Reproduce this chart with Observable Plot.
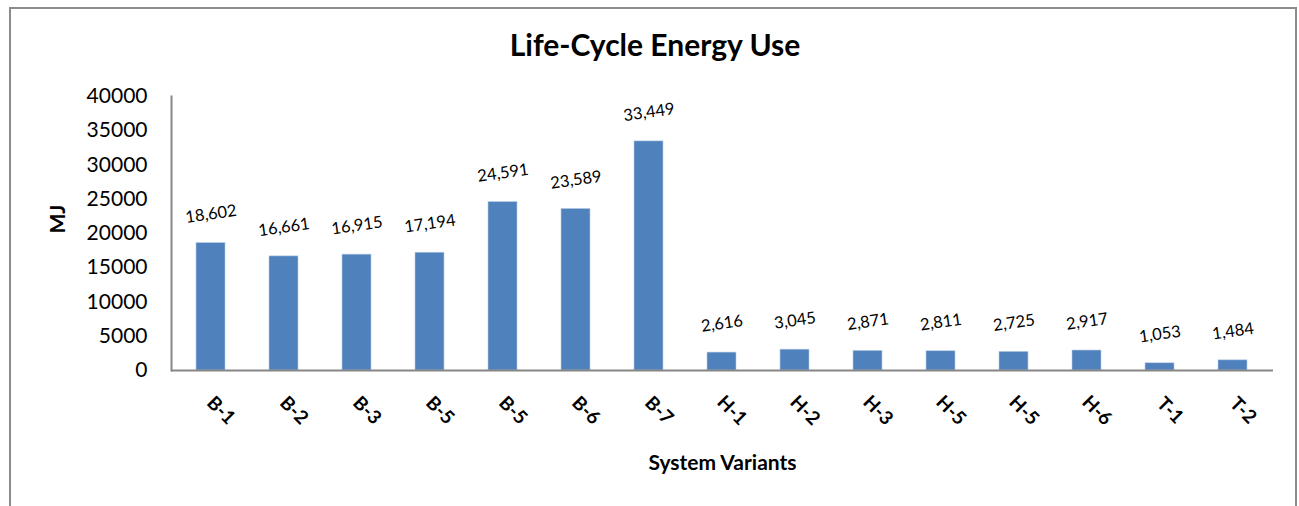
<!DOCTYPE html>
<html>
<head>
<meta charset="utf-8">
<script src="https://cdn.jsdelivr.net/npm/d3@7"></script>
<script src="https://cdn.jsdelivr.net/npm/@observablehq/plot@0.6"></script>
<style>
  html, body { margin: 0; padding: 0; background: #fff; }
  #wrap { position: relative; width: 1299px; height: 506px; overflow: hidden; font-family: Lato, "Open Sans", sans-serif; }
  #border { position: absolute; left: 9px; top: 7px; width: 1288px; height: 520px; border: 2px solid #8c8c8c; box-sizing: border-box; }
  #title { position: absolute; left: 0; top: 26px; width: 1310px; text-align: center; font-weight: bold; font-size: 30px; color: #000; }
  #chart { position: absolute; left: 0; top: 80px; }
</style>
</head>
<body>
<div id="wrap">
  <div id="border"></div>
  <div id="title">Life-Cycle Energy Use</div>
  <div id="chart"></div>
</div>
<script>
const categories = ["B-1","B-2","B-3","B-5","B-5","B-6","B-7","H-1","H-2","H-3","H-5","H-5","H-6","T-1","T-2"];
const values = [18602,16661,16915,17194,24591,23589,33449,2616,3045,2871,2811,2725,2917,1053,1484];
const yTicks = [0,5000,10000,15000,20000,25000,30000,35000,40000];

const data = categories.map((c, i) => ({i, c, v: values[i]}));
const fmt = d3.format(",");

const chart = Plot.plot({
  width: 1299,
  height: 426,
  marginLeft: 171,
  marginRight: 26,
  marginTop: 16,
  marginBottom: 136,
  style: {fontFamily: "Lato, 'Open Sans', sans-serif", background: "transparent"},
  x: {domain: d3.range(categories.length), paddingInner: 0.6, paddingOuter: 0.3, align: 0.5},
  y: {domain: [0, 40000]},
  marks: [
    Plot.barY(data, {x: "i", y: "v", fill: "#4f81bd", stroke: "#b9cde5", strokeWidth: 0.6}),
    Plot.axisY({ticks: yTicks, tickSize: 0, tickPadding: 24, fontSize: 21, label: null, tickFormat: d => String(d), fill: "#000"}),
    Plot.axisX({tickSize: 0, tickRotate: 45, tickFormat: i => categories[i], fontSize: 19, fontWeight: "bold", label: null, textAnchor: "middle", tickPadding: 0, dy: 40, dx: 10, fill: "#000"}),
    Plot.frame({anchor: "left", stroke: "#868686", strokeWidth: 2}),
    Plot.ruleY([0], {stroke: "#868686", strokeWidth: 2}),
    Plot.text(data, {x: "i", y: "v", text: d => fmt(d.v), dy: -29, rotate: -8, fontSize: 16.5, fill: "#000"}),
    Plot.text(["System Variants"], {frameAnchor: "bottom", dy: 99, fontSize: 21, fontWeight: "bold", fill: "#000"}),
    Plot.text(["MJ"], {frameAnchor: "left", dx: -113, rotate: -90, fontSize: 21, fontWeight: "bold", fill: "#000"})
  ]
});
document.getElementById("chart").appendChild(chart);
</script>
</body>
</html>
